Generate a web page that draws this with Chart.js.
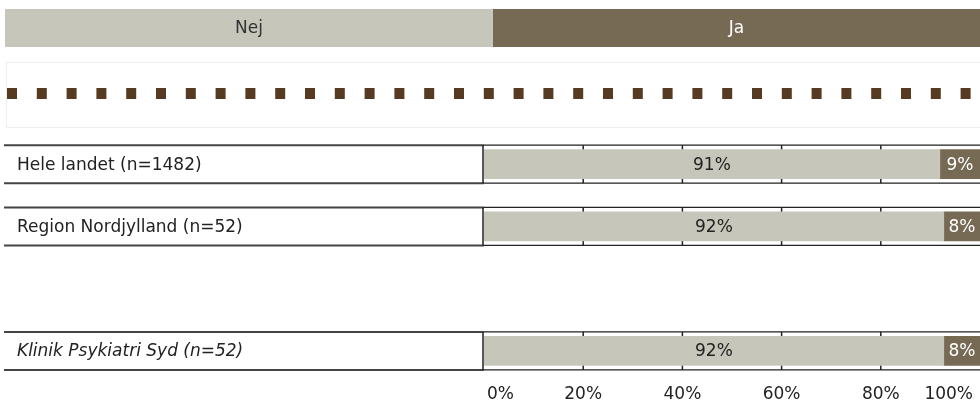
<!DOCTYPE html>
<html lang="da">
<head>
<meta charset="UTF-8">
<title>Nej / Ja</title>
<script src="https://cdn.jsdelivr.net/npm/chart.js"></script>
<style>
  html, body { margin: 0; padding: 0; background: #fff; }
  .wrap { width: 980px; height: 403px; position: relative; }
</style>
</head>
<body>
<div class="wrap"><canvas id="chart"></canvas></div>
<script>
// data
const categories = ['Hele landet (n=1482)', 'Region Nordjylland (n=52)', '', 'Klinik Psykiatri Syd (n=52)'];
const italicRows = [false, false, false, true];
const nejValues = [91.9, 92.7, null, 92.7];
const jaValues = [8.1, 7.3, null, 7.3];
const nejText = ['91%', '92%', '', '92%'];
const jaText = ['9%', '8%', '', '8%'];
const xTicks = [0, 20, 40, 60, 80, 100];

const FONT = '"DejaVu Sans", Verdana, sans-serif';
const NEJ_COLOR = '#c6c7ba';
const JA_COLOR = '#776a55';

// linjer omkring hver raekke + smaa tick-streger
const rowLines = {
  id: 'rowLines',
  beforeDatasetsDraw(chart) {
    const ctx = chart.ctx, y = chart.scales.y, x = chart.scales.x;
    ctx.save();
    categories.forEach((c, i) => {
      if (!c) return;
      const cy = y.getPixelForValue(i);
      const top = cy - 19, bot = cy + 19;
      // venstre boks
      ctx.strokeStyle = '#444';
      ctx.lineWidth = 2;
      ctx.beginPath();
      ctx.moveTo(4, top); ctx.lineTo(x.left, top);
      ctx.moveTo(4, bot); ctx.lineTo(x.left, bot);
      ctx.stroke();
      // hoejre del
      ctx.strokeStyle = '#222';
      ctx.lineWidth = 1.3;
      ctx.beginPath();
      ctx.moveTo(x.left, top); ctx.lineTo(x.right, top);
      ctx.moveTo(x.left, bot); ctx.lineTo(x.right, bot);
      ctx.stroke();
      ctx.lineWidth = 1.5;
      ctx.beginPath();
      ctx.moveTo(x.left - 1, top); ctx.lineTo(x.left - 1, bot);
      xTicks.forEach(t => {
        if (t === 0 || t === 100) return;
        const px = x.getPixelForValue(t);
        ctx.moveTo(px, top); ctx.lineTo(px, bot);
      });
      ctx.stroke();
    });
    ctx.restore();
  },
  afterDatasetsDraw(chart) {
    const ctx = chart.ctx;
    const texts = [nejText, jaText];
    const colors = ['#222', '#fff'];
    ctx.save();
    ctx.font = '17px ' + FONT;
    ctx.textAlign = 'center';
    ctx.textBaseline = 'middle';
    texts.forEach((arr, d) => {
      chart.getDatasetMeta(d).data.forEach((bar, i) => {
        if (!arr[i]) return;
        ctx.fillStyle = colors[d];
        ctx.fillText(arr[i], (bar.x + bar.base) / 2, bar.y + 1);
      });
    });
    ctx.restore();
  },
  afterDraw(chart) {
    const ctx = chart.ctx, y = chart.scales.y, x = chart.scales.x;
    ctx.save();
    // legende
    const ds = chart.data.datasets;
    const boxes = [[5, 493], [493, 980]];
    const txtCol = ['#333', '#fff'];
    ctx.font = '17px ' + FONT;
    ctx.textAlign = 'center';
    ctx.textBaseline = 'middle';
    ds.forEach((d, k) => {
      ctx.fillStyle = d.backgroundColor;
      ctx.fillRect(boxes[k][0], 9, boxes[k][1] - boxes[k][0], 38);
      ctx.fillStyle = txtCol[k];
      ctx.fillText(d.label, (boxes[k][0] + boxes[k][1]) / 2, 29);
    });
    // x-akse etiketter
    ctx.fillStyle = '#222';
    xTicks.forEach((t, k) => {
      let px = x.getPixelForValue(t);
      if (k === 0) { ctx.textAlign = 'left'; px += 3; }
      else if (k === xTicks.length - 1) { ctx.textAlign = 'right'; px -= 7; }
      else ctx.textAlign = 'center';
      ctx.fillText(t + '%', px, x.bottom + 13);
    });
    // prikket raekke
    ctx.strokeStyle = '#eeeeee';
    ctx.lineWidth = 1;
    ctx.strokeRect(6.5, 62.5, 980, 65);
    ctx.strokeStyle = '#563a22';
    ctx.lineWidth = 11;
    ctx.setLineDash([10, 19.8]);
    ctx.beginPath();
    ctx.moveTo(7, 93.5); ctx.lineTo(980, 93.5);
    ctx.stroke();
    ctx.setLineDash([]);
    // raekke-etiketter
    ctx.textAlign = 'left';
    ctx.fillStyle = '#222';
    categories.forEach((c, i) => {
      if (!c) return;
      ctx.font = (italicRows[i] ? 'italic ' : '') + '17px ' + FONT;
      ctx.fillText(c, 17, y.getPixelForValue(i) + 1);
    });
    ctx.restore();
  }
};

new Chart(document.getElementById('chart'), {
  type: 'bar',
  data: {
    labels: categories,
    datasets: [
      { label: 'Nej', data: nejValues, backgroundColor: NEJ_COLOR, barThickness: 29 },
      { label: 'Ja', data: jaValues, backgroundColor: JA_COLOR, barThickness: 29 }
    ]
  },
  options: {
    indexAxis: 'y',
    responsive: true,
    maintainAspectRatio: false,
    animation: false,
    layout: { padding: { left: 484, top: 133, right: 0, bottom: 21 } },
    plugins: { legend: { display: false }, tooltip: { enabled: false } },
    scales: {
      x: {
        stacked: true,
        min: 0, max: 100,
        afterBuildTicks(axis) { axis.ticks = xTicks.map(v => ({ value: v })); },
        grid: { display: false, drawTicks: false },
        border: { display: false },
        ticks: { display: false }
      },
      y: { stacked: true, display: false }
    }
  },
  plugins: [rowLines]
});
</script>
</body>
</html>
